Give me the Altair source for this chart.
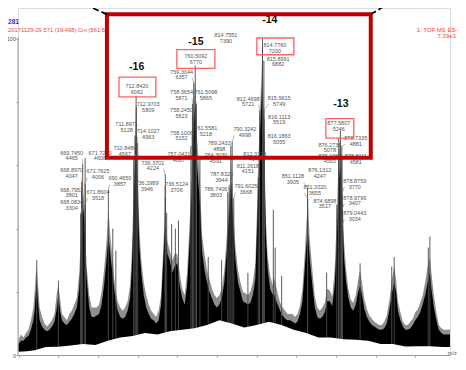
import altair as alt
import pandas as pd

# ---------------- spectrum envelope (m/z, % of base peak 7390) ----------------
SPEC_MZ = [618, 620, 622, 624, 626, 628, 630, 631, 632, 632.7,
           633.5, 635, 637, 639, 641, 643, 645, 647, 649, 650.2,
           651.5, 653, 655, 657, 659, 661, 663, 665, 667, 668,
           669, 670, 671, 672, 673, 675, 677, 679, 681, 683,
           685, 687, 689, 690.5, 692, 694, 696, 698, 700, 702,
           704, 706, 708, 709.5, 711, 712.8, 714, 715.5, 717, 719,
           721, 723, 725, 727, 729, 731, 733, 734.5, 736.3, 738,
           740, 742, 744, 746, 748, 750, 752, 754, 756, 757.5,
           759, 760.5, 762, 764.3, 766, 768, 770, 772, 774, 776,
           778, 780, 782, 784, 786, 787.8, 789.5, 791, 793, 795,
           797, 799, 801, 803, 805, 807, 809, 811, 812.5, 814.8,
           816, 817.5, 819, 821, 823, 823.5, 825, 827, 829, 831,
           833, 835, 837, 839, 841, 843, 845, 847, 849, 851.2,
           853, 855, 857, 859, 861, 863, 865, 867, 869, 871,
           873, 874.7, 876.2, 877.6, 879, 880.5, 882, 884, 886, 888,
           890, 892, 893.5, 895, 897, 899, 901, 903, 905, 907,
           909, 911, 913, 915, 917, 919, 921, 922.5, 924, 926,
           928, 930, 932, 934, 936, 938, 940, 942, 944, 946,
           948, 949.8, 951, 953, 955, 957, 959, 961, 963, 965,
           967, 969, 970]
SPEC_GREY = [5, 6.5, 5.5, 7, 8, 11, 15, 20, 26, 28,
             24, 15, 12, 10, 9, 10, 11, 13, 20, 22,
             18, 13, 12, 11, 13, 14, 16, 18, 26, 35,
             45, 52, 48, 36, 28, 19, 15, 15, 15, 16,
             20, 27, 36, 46, 38, 30, 21, 17, 15, 14,
             15, 17, 22, 34, 54, 78, 58, 40, 30, 23,
             19, 16, 14, 13, 12, 14, 19, 32, 48, 36,
             33, 30, 32, 32, 26, 21, 19, 26, 42, 58,
             78, 88, 68, 56, 38, 32, 27, 24, 21, 19,
             18, 19, 21, 27, 38, 50, 62, 48, 34, 27,
             23, 20, 19.5, 19, 20, 23, 29, 54, 75, 96,
             72, 43, 31, 25, 22, 25, 23, 19.5, 16.5, 15,
             14, 13, 13, 13, 12, 13, 15.5, 21, 33, 49,
             36, 27, 18.5, 15, 14, 15, 16.5, 21, 20.5, 18.5,
             27, 44, 64, 68, 56, 36, 28, 21, 17.5, 16.5,
             19, 24, 27, 23, 17.5, 14.5, 12.5, 11.5, 10.5, 10,
             9.5, 9.5, 10.5, 12.5, 17, 23.5, 28, 24, 17, 13.5,
             10.5, 9.5, 9.5, 10.5, 11.5, 13.5, 14.5, 16.5, 19, 23,
             28, 31, 26, 19, 13.5, 9.5, 8.5, 8, 8, 8,
             8.5, 9, 9]
SPEC_BLACK = [3.5, 4.5, 4.5, 5.5, 6, 8, 11, 14, 20, 23,
              18, 11, 9, 8, 7.5, 8, 9, 10.5, 15, 19,
              14, 11, 10, 9.5, 10.5, 11.5, 13, 15, 21, 30,
              40, 47, 44, 32, 24, 15, 12, 12, 12.5, 13,
              16, 22, 30, 38, 32, 25, 18, 14, 12, 11.5,
              12, 14, 18, 28, 48, 72, 52, 34, 26, 19,
              15, 13, 11.5, 11, 10, 11, 16, 28, 42, 32,
              30, 26, 28, 29, 22, 18, 16, 22, 36, 50,
              70, 80, 60, 48, 33, 27, 23, 20, 18, 16,
              15, 16, 18, 23, 33, 44, 55, 42, 30, 23,
              20, 17, 16.5, 16, 16.5, 19, 24, 48, 68, 88,
              66, 38, 27, 21, 19, 20, 18, 16, 14, 12.5,
              11.5, 11, 11, 10.5, 10, 10.5, 13, 17, 28, 40,
              30, 22, 15, 12, 11.5, 12, 13.5, 17, 17, 15.5,
              22, 36, 55, 60, 48, 31, 24, 18, 15, 14,
              16, 20, 22, 19, 14.5, 12, 10.5, 9.5, 9, 8.5,
              8, 8, 8.5, 10, 14, 19, 23, 20, 14, 11,
              9, 8, 8, 8.5, 9.5, 11, 12, 13.5, 16, 19,
              23, 26, 21, 15, 11, 8, 7, 6.5, 6.5, 6.5,
              6.5, 7, 7]

# lower edge of the noisy trace (% of base peak)
BASE_MZ = [617.6, 625, 631, 640, 650, 660, 670, 680, 690, 700,
           710, 720, 730, 740, 750, 760, 770, 780, 790, 800,
           810, 820, 830, 840, 850, 860, 870, 880, 890, 900,
           910, 920, 930, 940, 950, 960, 970]
BASE_PCT = [1.0, 1.2, 1.5, 2.5, 2.6, 3.0, 3.5, 3.2, 4.5, 5.5,
            6, 7, 6.5, 7.5, 8, 8.5, 9.5, 11, 10, 8.7,
            9.5, 10.5, 9.5, 8, 7, 5.5, 5.5, 5, 4.8, 4.5,
            3.5, 3.5, 2.7, 2.8, 2.8, 2.5, 2.5]

# thin unlabeled spikes
SPIKE_MZ = [632.7, 650.2, 694.0, 696.5, 737.5, 741.5, 744.5, 747.0, 771.0, 781.8,
            803.0, 823.5, 825.0, 830.2, 866.5, 893.5, 919.0, 921.0, 948.5, 949.8]
SPIKE_PCT = [30, 23.5, 40, 33, 45, 41.5, 40, 42.5, 31, 30,
             26, 46, 34, 25, 26, 29, 28, 31, 34, 37.5]

# ---------------- labelled peaks ----------------
BASE_PEAK = 7390
PEAK_MZ = ["669.7450", "671.7250", "668.8970", "671.7625", "690.4650", "668.7953", "671.8604", "668.0834",
           "712.8420", "712.9703", "711.8971", "714.1027", "710.8480",
           "760.5092", "759.3044", "758.3654", "761.5098", "758.2450", "758.1006", "761.5581", "757.0421",
           "764.3030", "789.2433", "736.3701", "736.2989", "736.5124", "787.8320", "786.7406", "791.6025",
           "790.3242", "814.7551", "814.7760", "815.8991", "812.4698", "815.9615", "816.1113", "816.1863",
           "812.3328", "811.2618", "851.1128", "851.2020", "877.5807", "876.2736", "878.7335", "876.1960",
           "878.8111", "876.1312", "878.8759", "874.6898", "878.9796", "879.0443"]
PEAK_INT = [4465, 4608, 4047, 4006, 3857, 3801, 3518, 3304,
            6062, 5809, 5128, 4963, 4567,
            6770, 6357, 5871, 5865, 5623, 5152, 5218, 4887,
            4591, 4898, 4224, 3946, 3706, 3944, 3803, 3668,
            4998, 7390, 7200, 6882, 5721, 5749, 5519, 5055,
            4640, 4151, 3905, 3655, 5246, 5078, 4881, 4565,
            4581, 4247, 3770, 3517, 3407, 3034]
# label anchors in data units (m/z, % of base peak)
LABEL_AT_MZ = [660.9, 683.7, 660.9, 682.1, 699.8, 660.9, 682.1, 660.9,
               713.5, 722.6, 705.2, 722.6, 703.8,
               761.1, 749.5, 749.5, 769.1, 749.5, 749.5, 769.1, 747.4,
               777.2, 779.9, 726.4, 721.6, 745.5, 781.8, 777.2, 801.4,
               800.6, 785.3, 824.8, 827.4, 803.2, 828.2, 828.2, 828.2,
               808.6, 803.0, 839.3, 857.0, 876.3, 869.1, 890.0, 869.1,
               890.0, 861.0, 889.2, 865.1, 889.2, 889.2]
LABEL_AT_PCT = [64.0, 64.0, 58.4, 58.1, 55.9, 52.3, 51.6, 48.4,
                85.0, 79.3, 73.1, 70.9, 65.5,
                94.5, 89.7, 83.1, 83.1, 77.4, 70.4, 71.7, 63.5,
                63.2, 67.1, 60.9, 54.4, 54.0, 57.2, 52.5, 53.4,
                71.4, 101.1, 98.1, 93.8, 81.1, 81.3, 75.4, 69.2,
                63.7, 59.9, 56.5, 53.1, 73.3, 66.6, 68.6, 63.1,
                62.9, 58.4, 55.0, 48.8, 49.8, 44.8]

# boxed labels (m/z range, % range)
BOX_MZ1 = [699.0, 745.7, 810.2, 865.9]
BOX_MZ2 = [728.8, 776.4, 840.1, 888.4]
BOX_PCT1 = [87.9, 96.6, 100.3, 74.8]
BOX_PCT2 = [81.7, 90.7, 95.0, 68.6]

CHARGE_TEXT = ["-16", "-15", "-14", "-13"]
CHARGE_MZ = [713.3, 761.1, 820.7, 878.0]
CHARGE_PCT = [91.0, 99.1, 105.9, 79.5]

FRAME_MZ = [689.3, 902.1]
FRAME_PCT = [107.8, 62.4]
DASH_MZ1 = [689.3, 902.1]
DASH_MZ2 = [664.3, 921.5]
DASH_PCT1 = [107.8, 107.8]
DASH_PCT2 = [112.1, 112.4]

HEAD_TEXT = ["281", "20171129-29 571 (19.498) Cm (561:59", "1: TOF MS ES-", "7.39e3", "m/z"]
HEAD_MZ = [609.6, 609.6, 972.0, 970.8, 971.4]
HEAD_PCT = [105.3, 102.8, 102.8, 100.8, 0.6]

X_DOMAIN = [617.58, 966.0]
Y_TOP = 109.8
FONT = "Liberation Sans"

# ---------------- tables ----------------
spec = pd.DataFrame({"mz": SPEC_MZ, "iv": SPEC_GREY, "blk": SPEC_BLACK})
base = pd.DataFrame({"mz": BASE_MZ, "iv": BASE_PCT})
peak_mz = [float(m) for m in PEAK_MZ]
peak_pct = [v * 100.0 / BASE_PEAK for v in PEAK_INT]
sticks = pd.DataFrame({"mz": peak_mz + SPIKE_MZ, "iv": peak_pct + SPIKE_PCT})
labels = pd.DataFrame({"mz": LABEL_AT_MZ, "iv": LABEL_AT_PCT,
                       "t1": PEAK_MZ, "t2": [str(v) for v in PEAK_INT]})

# leader lines from each label to the top of its peak
lead_rows = []
for lm, lp, pm, pp in zip(LABEL_AT_MZ, LABEL_AT_PCT, peak_mz, peak_pct):
    if abs(lm - pm) < 5:
        sx, sy = pm, lp - 2.9
    elif lm < pm:
        sx, sy = lm + 8.5, lp - 1.9
    else:
        sx, sy = lm - 8.5, lp - 1.9
    if sy > pp:
        lead_rows.append({"mz": sx, "iv": sy, "mz2": pm, "iv2": pp})
leads = pd.DataFrame(lead_rows)

boxes = pd.DataFrame({"mz": BOX_MZ1, "mz2": BOX_MZ2, "iv": BOX_PCT1, "iv2": BOX_PCT2})
charges = pd.DataFrame({"mz": CHARGE_MZ, "iv": CHARGE_PCT, "t": CHARGE_TEXT})
frame = pd.DataFrame({"mz": [FRAME_MZ[0]], "mz2": [FRAME_MZ[1]], "iv": [FRAME_PCT[0]], "iv2": [FRAME_PCT[1]]})
dashes = pd.DataFrame({"mz": DASH_MZ1, "mz2": DASH_MZ2, "iv": DASH_PCT1, "iv2": DASH_PCT2})
yaxis = pd.DataFrame({"mz": [X_DOMAIN[0]], "iv": [0], "iv2": [100.5]})
head = pd.DataFrame({"mz": HEAD_MZ, "iv": HEAD_PCT, "t": HEAD_TEXT})

xs = alt.Scale(domain=X_DOMAIN, nice=False, zero=False)
ys = alt.Scale(domain=[0, Y_TOP], nice=False, zero=False)

x_axis = alt.Axis(values=list(range(618, 967, 2)),
                  labelExpr="datum.value % 20 == 0 ? datum.value : ''",
                  labelFontSize=5.5, labelFont=FONT, labelColor="#555555", labelPadding=0.5,
                  labelOverlap=False, tickSize=2, tickColor="#9a9a9a", domainColor="#9a9a9a",
                  grid=False, title="", zindex=2)
y_axis = alt.Axis(values=[0, 10, 20, 30, 40, 50, 60, 70, 80, 90, 100],
                  labelExpr="datum.value == 0 ? '0' : (datum.value == 100 ? '100' : (datum.value == 50 ? '%' : ''))",
                  labelFontSize=5.5, labelFont=FONT, labelColor="#555555", labelPadding=0.5,
                  tickSize=2, tickColor="#9a9a9a", domain=False, grid=False, title="", zindex=2)


def X(f="mz:Q"):
    return alt.X(f, scale=xs)


def Y(f="iv:Q"):
    return alt.Y(f, scale=ys)


grey = alt.Chart(spec).mark_area(color="#8e8e8e", clip=True).encode(
    x=alt.X("mz:Q", scale=xs, axis=x_axis),
    y=alt.Y("iv:Q", scale=ys, axis=y_axis),
    y2=alt.datum(0))
black = alt.Chart(spec).mark_area(color="#000000", clip=True).encode(
    x=X(), y=Y("blk:Q"), y2=alt.datum(0))
stick = alt.Chart(sticks).mark_rule(color="#4a4a4a", strokeWidth=0.9).encode(
    x=X(), y=Y(), y2=alt.datum(0))
white = alt.Chart(base).mark_area(color="#ffffff", clip=True).encode(
    x=X(), y=Y(), y2=alt.datum(0))
yline = alt.Chart(yaxis).mark_rule(color="#9a9a9a", strokeWidth=1).encode(
    x=X(), y=Y(), y2="iv2:Q")
lead = alt.Chart(leads).mark_rule(color="#8a8a8a", strokeWidth=0.6).encode(
    x=X(), x2="mz2:Q", y=Y(), y2="iv2:Q")

lab1 = alt.Chart(labels).mark_text(fontSize=5.5, font=FONT, color="#555555", baseline="middle").encode(
    x=X(), y=Y(), text="t1:N")
lab2 = alt.Chart(labels).mark_text(fontSize=5.5, font=FONT, color="#555555", baseline="middle", dy=5.6).encode(
    x=X(), y=Y(), text="t2:N")
box = alt.Chart(boxes).mark_rect(fillOpacity=0, stroke="#ff6161", strokeWidth=1.3).encode(
    x=X(), x2="mz2:Q", y=Y(), y2="iv2:Q")
charge = alt.Chart(charges).mark_text(fontSize=10.5, font=FONT, fontWeight="bold", color="#111111",
                                      baseline="middle").encode(
    x=X(), y=Y(), text="t:N")
redframe = alt.Chart(frame).mark_rect(fillOpacity=0, stroke="#c00000", strokeWidth=4).encode(
    x=X(), x2="mz2:Q", y=Y(), y2="iv2:Q")
dash = alt.Chart(dashes).mark_rule(color="#000000", strokeWidth=1.8, strokeDash=[6, 3]).encode(
    x=X(), x2="mz2:Q", y=Y(), y2="iv2:Q")

head_l = alt.Chart(head.iloc[:1]).mark_text(
    fontSize=6.5, font=FONT, fontWeight="bold", color="#2b2bff", align="left", baseline="middle").encode(
    x=X(), y=Y(), text="t:N")
head_s = alt.Chart(head.iloc[1:2]).mark_text(
    fontSize=5.8, font=FONT, color="#ff4040", align="left", baseline="middle").encode(
    x=X(), y=Y(), text="t:N")
head_r = alt.Chart(head.iloc[2:4]).mark_text(
    fontSize=6, font=FONT, color="#ff4040", align="right", baseline="middle").encode(
    x=X(), y=Y(), text="t:N")
mzlab = alt.Chart(head.iloc[4:5]).mark_text(
    fontSize=5.5, font=FONT, color="#555555", align="right", baseline="middle").encode(
    x=X(), y=Y(), text="t:N")

chart = alt.layer(
    grey, black, stick, white, yline, lead, lab1, lab2, box, charge,
    head_l, head_s, head_r, mzlab, redframe, dash
).properties(
    width=432, height=347,
    autosize=alt.AutoSizeParams(type="none"),
    padding={"left": 10, "top": 0, "right": 8, "bottom": 7},
).configure_view(stroke=None).configure(background="white")

chart.save("out.html", embed_options={"renderer": "svg", "actions": False})
